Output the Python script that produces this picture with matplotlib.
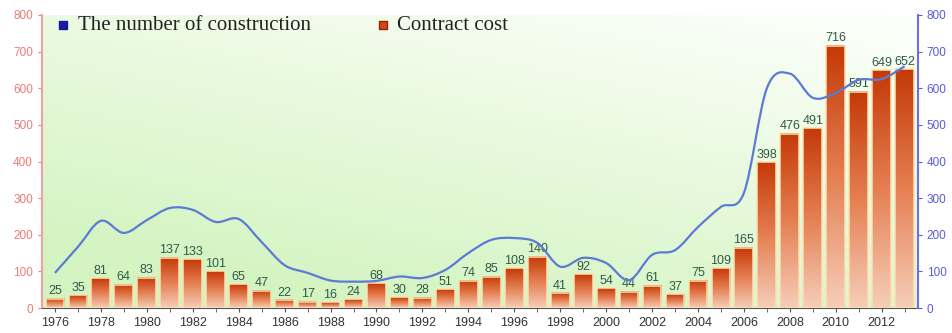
import numpy as np
import matplotlib
matplotlib.use("Agg")
import matplotlib.pyplot as plt
from matplotlib.path import Path
from matplotlib.patches import PathPatch
from matplotlib.colors import LinearSegmentedColormap

# Yearly data
years = list(range(1976, 2014))
contract_cost = [25, 35, 81, 64, 83, 137, 133, 101, 65, 47, 22, 17, 16, 24, 68,
                 30, 28, 51, 74, 85, 108, 140, 41, 92, 54, 44, 61, 37, 75, 109,
                 165, 398, 476, 491, 716, 591, 649, 652]
construction = [96, 167, 238, 205, 240, 273, 268, 235, 243, 180, 117, 96, 75, 72,
                74, 86, 82, 104, 150, 186, 191, 178, 113, 137, 123, 76, 145, 158,
                221, 276, 314, 600, 640, 574, 587, 623, 625, 660]

left_color = "#f07878"
right_color = "#5a5ae0"
line_color = "#5b7bd6"
label_color = "#2f5a44"

fig = plt.figure(figsize=(9.52, 3.33), dpi=100)
ax = fig.add_axes([0.044, 0.075, 0.92, 0.88])
ax2 = ax.twinx()

ax.set_xlim(1975.43, 2013.57)
ax.set_ylim(0, 800)
ax2.set_ylim(0, 800)

# background: light green fading to white toward the top right
gx, gy = np.meshgrid(np.linspace(0, 1, 200), np.linspace(0, 1, 100))
t = np.clip(0.75 * gy + 0.45 * gx - 0.18, 0, 1)
bg_cmap = LinearSegmentedColormap.from_list("bg", ["#d4f4c2", "#fdfffb"])
ax.imshow(t, cmap=bg_cmap, origin="lower", extent=[0, 1, 0, 1],
          transform=ax.transAxes, aspect="auto", zorder=0)

# bars with vertical gradient
bar_cmap = LinearSegmentedColormap.from_list("bar", ["#f6cdb8", "#e57f52", "#c53a08"])
grad = np.linspace(0, 1, 100).reshape(-1, 1)
w = 0.82
for yr, v in zip(years, contract_cost):
    ax.imshow(grad, cmap=bar_cmap, origin="lower", aspect="auto",
              extent=[yr - w / 2, yr + w / 2, 0, v], zorder=2)
    ax.bar(yr, v, width=w, facecolor="none", edgecolor="#fbe3b0", linewidth=1.1, zorder=3)
    ax.text(yr, v + 4, str(v), ha="center", va="bottom", fontsize=9,
            color=label_color, family="Liberation Sans", zorder=5)

ax.set_xlim(1975.43, 2013.57)
ax.set_ylim(0, 800)

# smooth line through the yearly points (Catmull-Rom as cubic Bezier)
xs = np.array(years, dtype=float)
ys = np.array(construction, dtype=float)
verts = [(xs[0], ys[0])]
codes = [Path.MOVETO]
n = len(xs)
for i in range(n - 1):
    p0 = (xs[max(i - 1, 0)], ys[max(i - 1, 0)])
    p1 = (xs[i], ys[i])
    p2 = (xs[i + 1], ys[i + 1])
    p3 = (xs[min(i + 2, n - 1)], ys[min(i + 2, n - 1)])
    c1 = (p1[0] + (p2[0] - p0[0]) / 6, p1[1] + (p2[1] - p0[1]) / 6)
    c2 = (p2[0] - (p3[0] - p1[0]) / 6, p2[1] - (p3[1] - p1[1]) / 6)
    verts += [c1, c2, p2]
    codes += [Path.CURVE4] * 3
ax2.add_patch(PathPatch(Path(verts, codes), facecolor="none", edgecolor=line_color,
                        linewidth=1.6, zorder=4))

# axes styling
ax.set_yticks(range(0, 801, 100))
ax2.set_yticks(range(0, 801, 100))
ax.set_xticks(range(1976, 2013, 2))
ax.set_xticks(years, minor=True)
for a in (ax, ax2):
    a.spines["top"].set_visible(False)
ax.spines["left"].set_color("#f4a0a0")
ax.spines["left"].set_linewidth(1.5)
ax.spines["right"].set_visible(False)
ax2.spines["left"].set_visible(False)
ax2.spines["bottom"].set_visible(False)
ax2.spines["right"].set_color("#7070e0")
ax2.spines["right"].set_linewidth(1.5)
ax.spines["bottom"].set_color("#555555")
ax.tick_params(axis="y", colors=left_color, labelsize=8.5, length=3)
ax2.tick_params(axis="y", colors=right_color, labelsize=8.5, length=3)
ax.tick_params(axis="x", which="both", colors="#555555", labelcolor="#333333",
               labelsize=9, length=3)
for lbl in ax.get_xticklabels() + ax.get_yticklabels() + ax2.get_yticklabels():
    lbl.set_family("Liberation Sans")

# legend
ax.scatter([1976.35], [772], marker="s", s=30, color="#1a1aa0", zorder=6, clip_on=False)
ax.text(1977.0, 772, "The number of construction", va="center", fontsize=15,
        family="Liberation Serif", color="#222222", zorder=6)
ax.scatter([1990.3], [772], marker="s", s=30, color="#d04818", edgecolors="#a02000",
           zorder=6, clip_on=False)
ax.text(1990.9, 772, "Contract cost", va="center", fontsize=15,
        family="Liberation Serif", color="#222222", zorder=6)

fig.savefig("out.png", dpi=100)
